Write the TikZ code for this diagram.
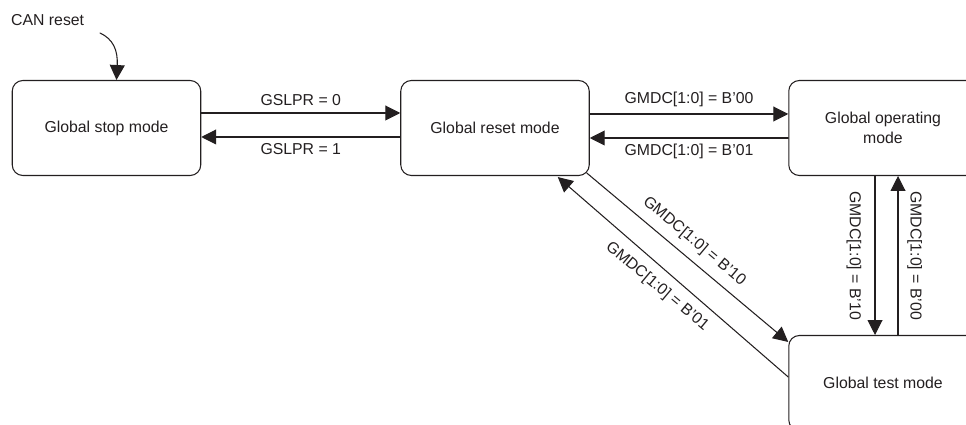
\documentclass[tikz,border=0pt]{standalone}
\usepackage{fontspec}
\setmainfont{Liberation Sans}
\usetikzlibrary{arrows.meta}
\definecolor{Ink}{RGB}{35,31,32}

\begin{document}
\begin{tikzpicture}[x=0.02cm,y=-0.02cm,line cap=round,line join=round,color=Ink,
  modebox/.style={draw,line width=0.6pt,rounded corners=6pt,minimum width=3.77cm,
    minimum height=1.9cm,align=center,font=\fontsize{9}{11}\selectfont},
  trans/.style={line width=0.6pt,-{Triangle[length=8.5pt,width=8.5pt]}},
  lbl/.style={font=\fontsize{9}{11}\selectfont}]
\path[use as bounding box] (0,0) rectangle (966,425);
\clip (0,0) rectangle (966,425);
% the four modes
\node[modebox] (stop) at (106.5,128) {Global stop mode};
\node[modebox] (reset) at (495,128) {Global reset mode};
\node[modebox] (oper) at (883,128) {Global operating\\mode};
\node[modebox] (test) at (883,383) {Global test mode};
% power-on entry
\node[lbl,anchor=west] (canlbl) at (5,20) {CAN reset};
\coordinate (canfrom) at (100,33);
\draw[trans] (canfrom) .. controls (113,39) and (118,50) .. ([shift={(10,0)}]stop.north);
% stop <-> reset
\draw[trans] ([shift={(0,-15)}]stop.east) -- node[lbl,above,inner sep=4pt] {GSLPR = 0} ([shift={(0,-15)}]reset.west);
\draw[trans] ([shift={(0,9)}]reset.west) -- node[lbl,below] {GSLPR = 1} ([shift={(0,9)}]stop.east);
% reset <-> operating
\draw[trans] ([shift={(0,-14)}]reset.east) -- node[lbl,above,inner sep=4pt] {GMDC[1:0] = B'00} ([shift={(0,-14)}]oper.west);
\draw[trans] ([shift={(0,10)}]oper.west) -- node[lbl,below] {GMDC[1:0] = B'01} ([shift={(0,10)}]reset.east);
% operating <-> test
\draw[trans] ([shift={(-8,0)}]oper.south) -- node[lbl,rotate=-90,anchor=north,inner sep=7.5pt] {GMDC[1:0] = B'10} ([shift={(-8,0)}]test.north);
\draw[trans] ([shift={(15,0)}]test.north) -- node[lbl,rotate=-90,anchor=south,inner sep=5pt] {GMDC[1:0] = B'00} ([shift={(15,0)}]oper.south);
% reset <-> test
\draw[trans] ([shift={(-3,-3)}]reset.south east) -- node[lbl,pos=0.48,rotate=-40,anchor=south,inner sep=5pt] {GMDC[1:0] = B'10} ([shift={(0,7)}]test.north west);
\draw[trans] ([shift={(0,-6)}]test.west) -- node[lbl,pos=0.52,rotate=-40,anchor=north,inner sep=5.5pt] {GMDC[1:0] = B'01} ([shift={(-32,1)}]reset.south east);
\end{tikzpicture}
\end{document}
